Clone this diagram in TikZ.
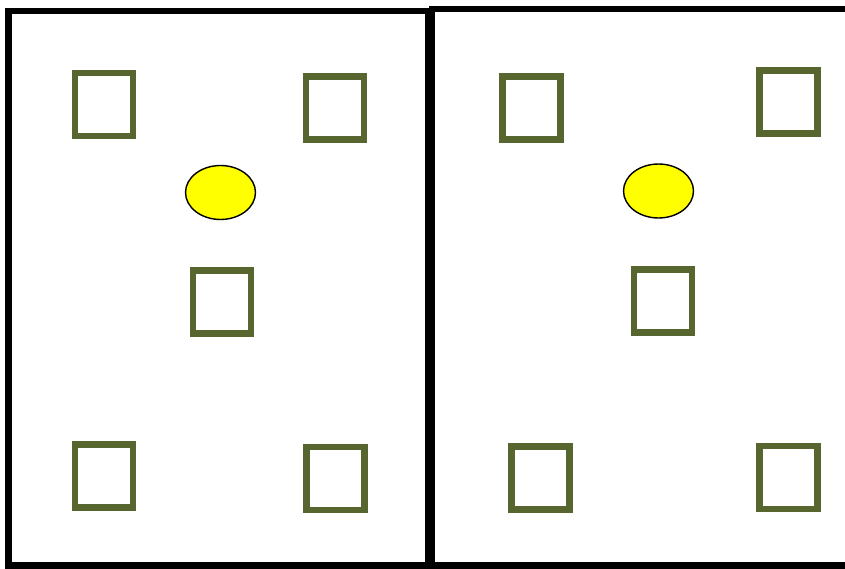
\documentclass[tikz,border=0pt]{standalone}
\usepackage{xcolor}
\usepackage{tikz}
\usetikzlibrary{shapes.geometric}
\definecolor{postgreen}{RGB}{86,102,46}
\definecolor{lampyellow}{RGB}{255,255,0}

\begin{document}
\begin{tikzpicture}[
  x=0.02cm, y=-0.02cm,
  frame/.style={line width=3.9pt},
  post/.style={rectangle, draw=postgreen, line width=3.6pt, inner sep=0pt,
    minimum width=1.16cm, minimum height=1.26cm},
  lamp/.style={ellipse, draw=black, line width=0.8pt, fill=lampyellow, inner sep=0pt,
    minimum width=1.4cm, minimum height=1.08cm}
]
\useasboundingbox (0,0) rectangle (845,568);

% two panels side by side (right one runs off the page)
\draw[frame] (8.5,11) rectangle (428,565.5);
\draw[frame] (432,9) rectangle (870,565.5);

% left panel: four corner posts, lamp and centre post
\node[post] (lposta) at (104,104.5) {};
\node[post] (lpostb) at (335,108) {};
\node[lamp] (llamp) at (220.5,192.5) {};
\node[post] (lpostc) at (222,302) {};
\node[post] (lpostd) at (104,476) {};
\node[post] (lposte) at (335.5,478.5) {};

% right panel
\node[post] (rposta) at (531.5,108) {};
\node[post] (rpostb) at (788.5,102) {};
\node[lamp] (rlamp) at (658.5,191) {};
\node[post] (rpostc) at (663,301) {};
\node[post] (rpostd) at (540.5,478) {};
\node[post] (rposte) at (788.5,477.5) {};
\end{tikzpicture}
\end{document}
